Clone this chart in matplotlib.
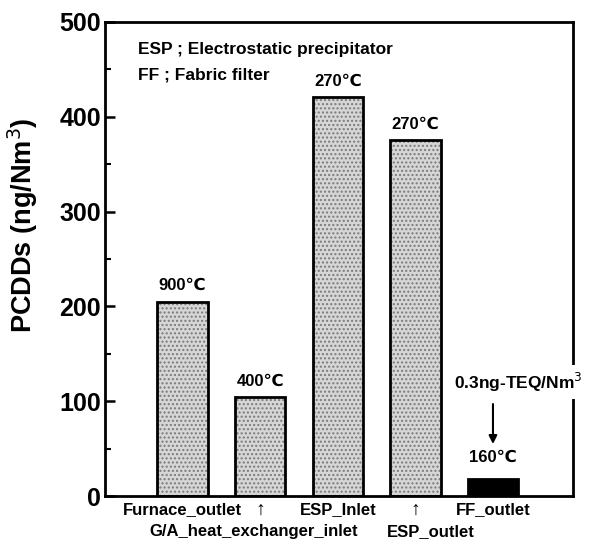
import matplotlib
matplotlib.use("Agg")
import matplotlib.pyplot as plt
from matplotlib.ticker import MultipleLocator

plt.rcParams['font.family'] = ['Liberation Sans', 'DejaVu Sans']

categories = ["Furnace_outlet", "G/A_heat_exchanger_inlet", "ESP_Inlet", "ESP_outlet", "FF_outlet"]
values = [205, 104, 421, 375, 18]
temps = ["900℃", "400℃", "270℃", "270℃", "160℃"]
row1_labels = ["Furnace_outlet", "↑", "ESP_Inlet", "↑", "FF_outlet"]
row2_labels = ["G/A_heat_exchanger_inlet", "ESP_outlet"]
row2_pos = [0.92, 3.2]
stippled = [True, True, True, True, False]

fig = plt.figure(figsize=(5.9, 5.44), dpi=100)
ax = fig.add_axes([0.178, 0.088, 0.793, 0.872])

x = list(range(len(categories)))
w = 0.65
for i, (v, s) in enumerate(zip(values, stippled)):
    if s:
        ax.bar(i, v, width=w, color='#d6d6d6', edgecolor='#7a7a7a', hatch='....',
               linewidth=0, zorder=2)
    else:
        ax.bar(i, v, width=w, color='black', linewidth=0, zorder=2)
ax.bar(x, values, width=w, fill=False, edgecolor='black', linewidth=2, zorder=3)

ax.set_xlim(-1.0, 5.03)
ax.set_ylim(0, 500)
ax.yaxis.set_major_locator(MultipleLocator(100))
ax.yaxis.set_minor_locator(MultipleLocator(50))
ax.tick_params(axis='y', which='major', direction='in', length=7, width=1.8, labelsize=18, pad=3)
ax.tick_params(axis='y', which='minor', direction='in', length=4, width=1.5)
for lab in ax.get_yticklabels():
    lab.set_fontweight('bold')
ax.set_xticks([])
for s in ax.spines.values():
    s.set_linewidth(2)

ax.set_ylabel("PCDDs (ng/Nm$^3$)", fontsize=19.5, fontweight='bold')
ax.yaxis.set_label_coords(-0.138, 0.572)

# temperature labels
for i, (v, t) in enumerate(zip(values, temps)):
    if i == 4:
        continue
    ax.annotate(t, (i, v), xytext=(0, 6), textcoords='offset points',
                ha='center', va='bottom', fontsize=12, fontweight='bold')

ax.annotate(temps[4], (4, values[4]), xytext=(0, 10), textcoords='offset points',
            ha='center', va='bottom', fontsize=12, fontweight='bold')
ax.annotate("", xy=(4, 52), xytext=(4, 100),
            arrowprops=dict(arrowstyle='-|>', color='black', lw=1.5, mutation_scale=12))
ax.text(4.33, 108, "0.3ng-TEQ/Nm$^3$", ha='center', va='bottom', fontsize=12.5,
        fontweight='bold', clip_on=False, zorder=5,
        bbox=dict(facecolor='white', edgecolor='none', pad=4))

ax.text(0.07, 0.942, "ESP ; Electrostatic precipitator", transform=ax.transAxes,
        fontsize=12.5, fontweight='bold', va='center', ha='left')
ax.text(0.07, 0.888, "FF ; Fabric filter", transform=ax.transAxes,
        fontsize=12.5, fontweight='bold', va='center', ha='left')

for i, lab in enumerate(row1_labels):
    fs = 14 if lab == "↑" else 12
    ax.text(i, -0.012, lab, transform=ax.get_xaxis_transform(), ha='center', va='top',
            fontsize=fs, fontweight='bold')
for p, lab in zip(row2_pos, row2_labels):
    ax.text(p, -0.058, lab, transform=ax.get_xaxis_transform(), ha='center', va='top',
            fontsize=12, fontweight='bold')

fig.savefig("out.png", dpi=100)
